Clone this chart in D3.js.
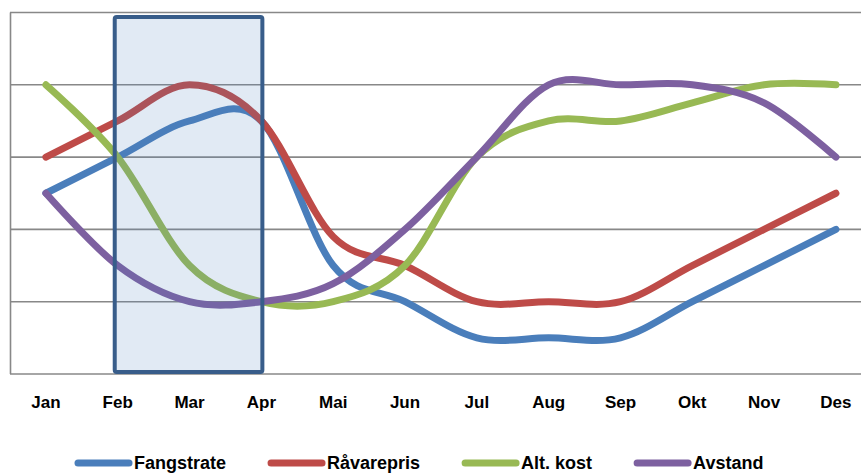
<!DOCTYPE html>
<html>
<head>
<meta charset="utf-8">
<script src="https://cdn.jsdelivr.net/npm/d3@7"></script>
<style>
  body { margin: 0; background: #fff; }
  svg { display: block; font-family: "Liberation Sans", Arial, sans-serif; }
</style>
</head>
<body>
<svg id="chart"></svg>
<script>
// donnees
const months = ["Jan", "Feb", "Mar", "Apr", "Mai", "Jun", "Jul", "Aug", "Sep", "Okt", "Nov", "Des"];
const fangstrate = [2.5, 3, 3.5, 3.5, 1.5, 1, 0.5, 0.5, 0.5, 1, 1.5, 2];
const ravarepris = [3, 3.5, 4, 3.5, 1.9, 1.5, 1, 1, 1, 1.5, 2, 2.5];
const altKost = [4, 3, 1.5, 1, 1, 1.5, 3, 3.5, 3.5, 3.75, 4, 4];
const avstand = [2.5, 1.5, 1, 1, 1.25, 2, 3, 4, 4, 4, 3.75, 3];
const yTicks = [0, 1, 2, 3, 4, 5];
const highlight = ["Feb", "Apr"];

const series = [
    { name: "Fangstrate", values: fangstrate, color: "#4a7ebb" },
    { name: "Råvarepris", values: ravarepris, color: "#be4b48" },
    { name: "Alt. kost", values: altKost, color: "#98b954" },
    { name: "Avstand", values: avstand, color: "#7d60a0" }
];

const width = 861, height = 473;
const svg = d3.select("#chart")
    .attr("width", width)
    .attr("height", height);

const x = d3.scaleBand()
    .domain(months)
    .range([10, 10 + 12 * 71.82]);

const y = d3.scaleLinear()
    .domain([0, 5])
    .range([374, 12.5]);

const cx = d => x(d) + x.bandwidth() / 2;

// grille
svg.append("g")
    .selectAll("line")
    .data(yTicks)
    .enter()
    .append("line")
    .attr("x1", 10)
    .attr("x2", width)
    .attr("y1", d => y(d))
    .attr("y2", d => y(d))
    .attr("stroke", "#888")
    .attr("stroke-width", 1.6);

svg.append("line")
    .attr("x1", 10.5).attr("x2", 10.5)
    .attr("y1", y(5)).attr("y2", y(0))
    .attr("stroke", "#888")
    .attr("stroke-width", 1.6);

// axe x
const xAxis = svg.append("g")
    .attr("transform", `translate(0, ${y(0)})`)
    .call(d3.axisBottom(x).tickSize(0).tickPadding(0));
xAxis.select(".domain").remove();
xAxis.selectAll("text")
    .attr("y", 34)
    .attr("dy", 0)
    .attr("fill", "#000")
    .style("font-size", "17px")
    .style("font-weight", "bold")
    .style("font-family", "'Liberation Sans', Arial, sans-serif");

// courbes
const line = d3.line()
    .x((d, i) => cx(months[i]))
    .y(d => y(d))
    .curve(d3.curveCardinal.tension(0));

svg.append("g")
    .selectAll("path")
    .data(series)
    .enter()
    .append("path")
    .attr("d", d => line(d.values))
    .attr("fill", "none")
    .attr("stroke", d => d.color)
    .attr("stroke-width", 7)
    .attr("stroke-linecap", "round")
    .attr("stroke-linejoin", "round");

// rectangle de mise en evidence
svg.append("rect")
    .attr("x", cx(highlight[0]) - 3)
    .attr("y", 17)
    .attr("width", cx(highlight[1]) + 1 - (cx(highlight[0]) - 3))
    .attr("height", 372 - 17)
    .attr("rx", 2)
    .attr("fill", "#4f81bd")
    .attr("fill-opacity", 0.17)
    .attr("stroke", "#385d8a")
    .attr("stroke-width", 4);

// legende
const legend = svg.append("g");
let lx = 75;
series.forEach(s => {
    legend.append("line")
        .attr("x1", lx + 3).attr("x2", lx + 54)
        .attr("y1", 463).attr("y2", 463)
        .attr("stroke", s.color)
        .attr("stroke-width", 7)
        .attr("stroke-linecap", "round");
    const t = legend.append("text")
        .attr("x", lx + 59)
        .attr("y", 469)
        .attr("fill", "#000")
        .style("font-size", "18px")
        .style("font-weight", "bold")
        .text(s.name);
    lx += 59 + t.node().getComputedTextLength() + 42;
});
</script>
</body>
</html>
